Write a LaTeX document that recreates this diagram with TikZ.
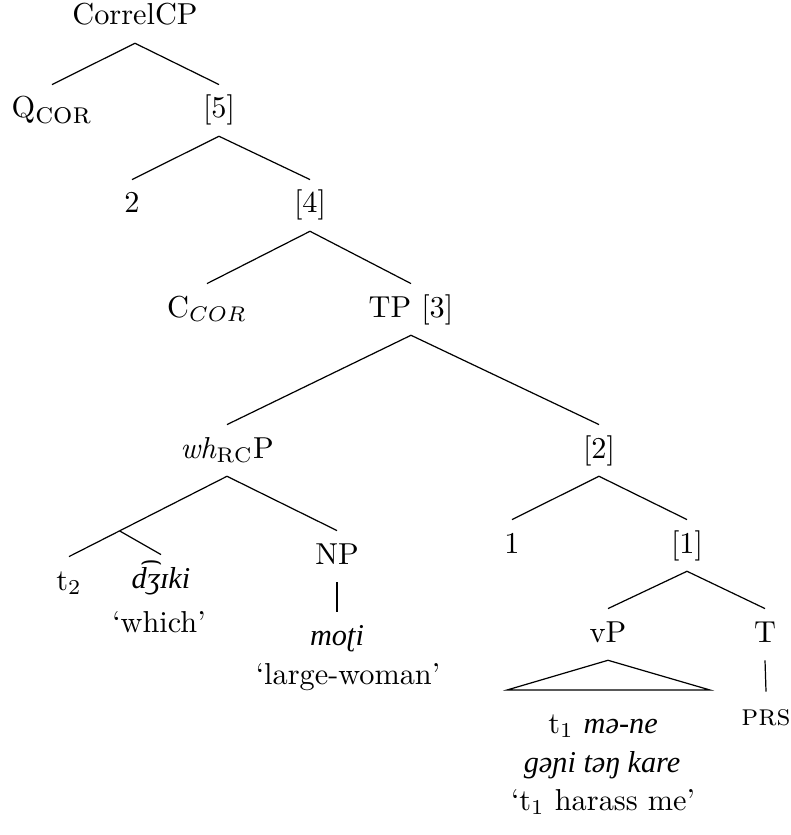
\documentclass[tikz,border=0pt]{standalone}
\usepackage{fontspec}
\newfontfamily\ipafont{Liberation Serif}
\newcommand{\ipa}[1]{{\ipafont\itshape #1}}
\usetikzlibrary{calc}
\begin{document}
\begin{tikzpicture}[x=0.33pt,y=-0.33pt,
  tn/.style={anchor=base,inner sep=3.33pt,text height=7.5pt,text depth=2.5pt},
  tx/.style={anchor=base,inner sep=0pt},
  edge/.style={draw=black,line width=0.4pt}]
\useasboundingbox (0,0) rectangle (790,835);
% nodes
\node[tn] (cp) at (135,25) {CorrelCP};
\node[tn] (q) at (52,118) {Q$_{\textsc{cor}}$};
\node[tn] (n5) at (219,118) {[5]};
\node[tn] (two) at (132,213) {2};
\node[tn] (n4) at (310,213) {[4]};
\node[tn] (c) at (207,317) {C$_{COR}$};
\node[tn] (tp) at (411,317) {TP [3]};
\node[tn] (wh) at (227,458) {\textit{wh}$_{\mathrm{RC}}$P};
\node[tn] (n2) at (599,458) {[2]};
\node[tn] (np) at (337,564) {NP};
\node[tn] (t2) at (69,590) {t$_2$};
\node[tn] (dz) at (161,588) {\ipa{d͡ʒɪki}};
\node[tx] (which) at (159,632) {‘which’};
\node[tn] (moti) at (337,645) {\ipa{moʈi}};
\node[tx] (lw) at (348,684) {‘large-woman’};
\node[tn] (one) at (512,553) {1};
\node[tn] (n1) at (687,553) {[1]};
\node[tn] (vp) at (608,642) {vP};
\node[tn] (t) at (765,642) {T};
\node[tn] (prs) at (766,725) {\textsc{prs}};
\node[tx] (l1) at (603,733) {t$_1$ \ipa{mə-ne}};
\node[tx] (l2) at (602,772) {\ipa{gəɲi təŋ kare}};
\node[tx] (l3) at (603,810) {‘t$_1$ harass me’};
% branching point
\coordinate (e) at ($(wh.south)!0.68!(t2.north)$);
\coordinate (tl) at (507,690);
\coordinate (tr) at (710,690);
% edges
\draw[edge] (cp.south) -- (q.north);
\draw[edge] (cp.south) -- (n5.north);
\draw[edge] (n5.south) -- (two.north);
\draw[edge] (n5.south) -- (n4.north);
\draw[edge] (n4.south) -- (c.north);
\draw[edge] (n4.south) -- (tp.north);
\draw[edge] (tp.south) -- (wh.north);
\draw[edge] (tp.south) -- (n2.north);
\draw[edge] (wh.south) -- (e);
\draw[edge] (wh.south) -- (np.north);
\draw[edge] (e) -- (t2.north);
\draw[edge] (e) -- (dz.north);
\draw[edge] (np.south) -- (moti.north);
\draw[edge] (n2.south) -- (one.north);
\draw[edge] (n2.south) -- (n1.north);
\draw[edge] (n1.south) -- (vp.north);
\draw[edge] (n1.south) -- (t.north);
\draw[edge] (vp.south) -- (tl) -- (tr) -- cycle;
\draw[edge] (t.south) -- (prs.north);
\end{tikzpicture}
\end{document}
